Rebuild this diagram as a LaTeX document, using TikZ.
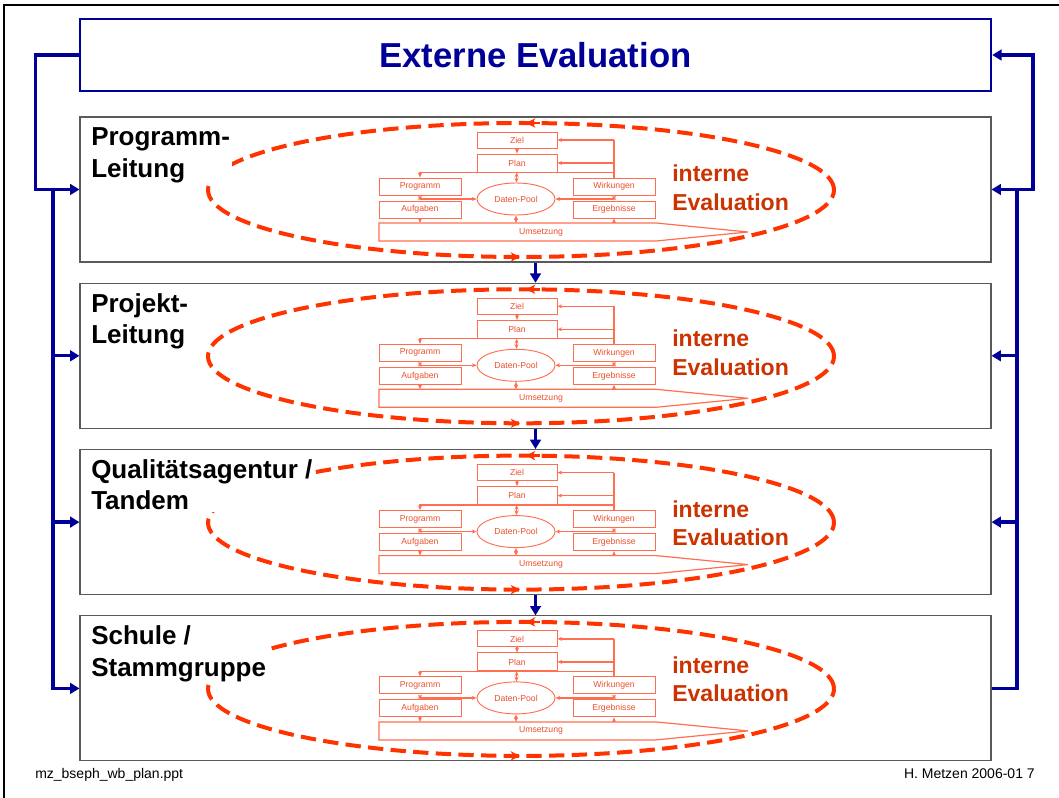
\documentclass[tikz,border=0pt]{standalone}
\usepackage{fontspec}
\setmainfont{Liberation Sans}
\usetikzlibrary{arrows.meta,shapes.geometric}

\definecolor{extblue}{RGB}{0,0,153}
\definecolor{evalred}{RGB}{255,51,0}
\definecolor{evaltxt}{RGB}{204,51,0}
\definecolor{innerred}{RGB}{255,110,80}
\definecolor{innertxt}{RGB}{235,80,45}
\definecolor{boxgray}{RGB}{90,90,90}

\tikzset{
  flow/.style={extblue, line width=2.5pt, -{Triangle[length=7pt,width=8pt]}},
  stufe/.style={draw=boxgray, line width=0.8pt, minimum width=683.25pt, minimum height=108.75pt, inner sep=0pt},
  stufetext/.style={font=\fontsize{19.5}{23.5}\selectfont\bfseries, align=left, anchor=base west, fill=white, inner sep=1.5pt},
  evalring/.style={evalred, line width=3pt, dash pattern=on 11.5pt off 5.5pt},
  evaltip/.style={evalred, line width=2pt, -{Stealth[length=7pt,width=7pt]}},
  evaltext/.style={text=evaltxt, font=\fontsize{17.3}{21.3}\selectfont\bfseries, align=left, anchor=base west, inner sep=0pt},
  innerbox/.style={draw=innerred, line width=0.7pt, text=innertxt, font=\fontsize{6.5}{7}\selectfont, inner sep=0pt},
  innerline/.style={innerred, line width=0.9pt},
  intip/.style={-{Stealth[length=3.5pt,width=3pt]}},
  intwo/.style={{Stealth[length=3.5pt,width=3pt]}-{Stealth[length=3.5pt,width=3pt]}}
}

\begin{document}
\begin{tikzpicture}[x=0.75pt,y=-0.75pt]
  \useasboundingbox (0,0) rectangle (1059,798);
  \draw[line width=1.5pt] (4,798) -- (4,5) -- (1059,5);

  % externe Evaluation
  \node[draw=extblue, line width=1.8pt, minimum width=683.25pt, minimum height=54pt, text=extblue,
        font=\fontsize{26}{30}\selectfont\bfseries] (ext) at (535.5,55) {Externe Evaluation};

  % Stufen
  \foreach \i in {1,...,4}
    \node[stufe] (b\i) at (535.5,{189.5+166.3*(\i-1)}) {};

  % interne Evaluation in jeder Stufe
  \foreach \i/\dy in {1/-7.5,2/-9,3/-5,4/-15}{
    \begin{scope}[shift={(0,{166.3*(\i-1)})}]
      \draw[evalring] (521,190) ellipse [x radius=234.75pt, y radius=50.25pt];
      \draw[evaltip] (540,123) -- (526,123);
      \draw[evaltip] (506,257) -- (520,257);
      \node[evaltext] (ie\i) at (672,{189.5+\dy+28.4}) {interne\\Evaluation};

      \node[innerbox, minimum width=60pt, minimum height=12pt] (ziel\i) at (517,140) {Ziel};
      \node[innerbox, minimum width=60pt, minimum height=13.5pt] (plan\i) at (517,163) {Plan};
      \node[innerbox, minimum width=61.5pt, minimum height=12.75pt] (prog\i) at (420,186.5) {Programm};
      \node[innerbox, minimum width=61.5pt, minimum height=12.75pt] (aufg\i) at (420,209.5) {Aufgaben};
      \node[innerbox, minimum width=61.5pt, minimum height=12.75pt] (wirk\i) at (614,186.5) {Wirkungen};
      \node[innerbox, minimum width=61.5pt, minimum height=12.75pt] (ergb\i) at (614,209.5) {Ergebnisse};
      \node[innerbox, ellipse, minimum width=58.5pt, minimum height=24pt] (pool\i) at (516,199) {Daten-Pool};
      \node[innerbox, draw=none] (um\i) at (541,232) {Umsetzung};
      \coordinate (unw\i) at (379,223);
      \draw[innerline] (unw\i) -- (656,223) -- (748,232) -- (656,241) -- (379,241) -- cycle;

      \draw[innerline,intip] (ziel\i) -- (plan\i);
      \draw[innerline] (wirk\i.north) -- (wirk\i.north |- ziel\i.east);
      \draw[innerline,intip] (wirk\i.north |- ziel\i.east) -- (ziel\i.east);
      \draw[innerline,intip] (wirk\i.north |- plan\i.east) -- (plan\i.east);
      \draw[innerline,intip] (wirk\i.north |- plan\i.south) -| (prog\i.north);
      \draw[innerline,intwo] (plan\i) -- (pool\i);
      \draw[innerline,intwo] (prog\i) -- (aufg\i);
      \draw[innerline,intip] (prog\i.south |- pool\i.west) -- (pool\i.west);
      \draw[innerline,intwo] (wirk\i) -- (ergb\i);
      \draw[innerline,intip] (wirk\i.south |- pool\i.east) -- (pool\i.east);
      \draw[innerline,intwo] (pool\i.south) -- (pool\i.south |- unw\i);
      \draw[innerline,intip] (aufg\i.south) -- (aufg\i.south |- unw\i);
      \draw[innerline,intip] (ergb\i.south |- unw\i) -- (ergb\i.south);
    \end{scope}
  }

  % Namen der Stufen (ueber dem Ring)
  \node[stufetext] (l1) at (89,177.3) {Programm-\\Leitung};
  \node[stufetext] (l2) at (89,343.6) {Projekt-\\Leitung};
  \node[stufetext] (l3) at (89,509.9) {Qualitätsagentur /\\Tandem};
  \node[stufetext] (l4) at (89,676.2) {Schule /\\Stammgruppe};

  % Verbindungen
  \coordinate (lbus) at (53,189.5);
  \coordinate (rbus) at (1017,189.5);
  \draw[flow] (ext.west) -- ++(-43,0) |- (b1.west);
  \draw[flow] (lbus) |- (b4.west);
  \foreach \i in {2,3}
    \draw[flow] (lbus |- b\i.west) -- (b\i.west);
  \draw[flow] (b4.east) -| (rbus) -- (b1.east);
  \foreach \i in {2,3}
    \draw[flow] (rbus |- b\i.east) -- (b\i.east);
  \draw[flow] (rbus) -- ++(16,0) |- (ext.east);
  \foreach \i/\j in {1/2,2/3,3/4}
    \draw[flow] (b\i.south) -- (b\j.north);

  % Fusszeile
  \node[font=\fontsize{10.5}{12}\selectfont, anchor=base west, inner sep=0pt] (datei) at (35,778) {mz\_bseph\_wb\_plan.ppt};
  \node[font=\fontsize{10.5}{12}\selectfont, anchor=base east, inner sep=0pt] (autor) at (1035,778) {H. Metzen 2006-01 7};
\end{tikzpicture}
\end{document}
